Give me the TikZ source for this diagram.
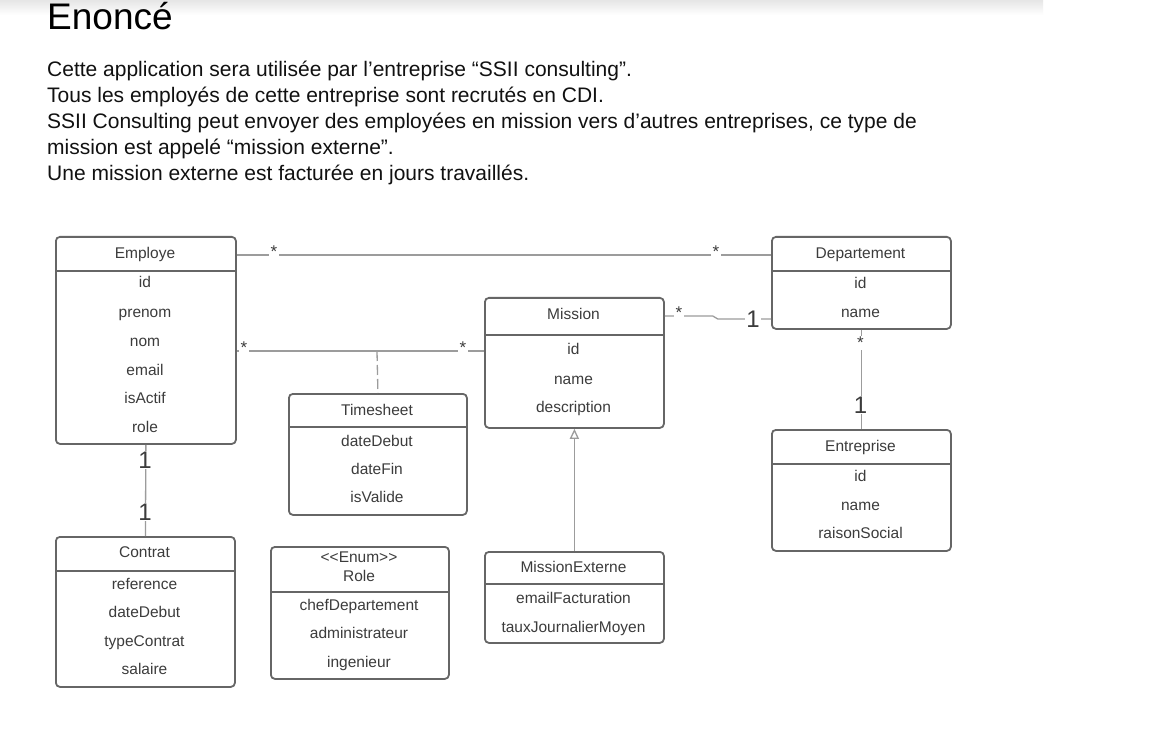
\documentclass[tikz,border=0pt]{standalone}
\usepackage{fontspec}
\setmainfont{Liberation Sans}
\usetikzlibrary{arrows.meta}
\definecolor{boxc}{HTML}{666666}
\definecolor{linec}{HTML}{9C9C9C}
\definecolor{txtc}{HTML}{3C3C3C}
\definecolor{parac}{HTML}{111111}
\tikzset{
  cls/.style={draw=boxc, line width=1.8pt, rounded corners=4pt, anchor=north west, inner sep=0pt, fill=white},
  sep/.style={draw=boxc, line width=1.8pt},
  txt/.style={font=\fontsize{15.5}{18}\selectfont, text=txtc, inner sep=0pt, anchor=base, yshift=-5.5pt},
  para/.style={font=\fontsize{21}{25}\selectfont, text=parac, anchor=base west, inner sep=0pt},
  conn/.style={draw=linec, line width=1.3pt},
  mult/.style={fill=white, inner sep=1.5pt, font=\fontsize{17}{17}\selectfont, text=txtc},
  one/.style={fill=white, inner sep=1pt, font=\fontsize{24}{24}\selectfont, text=txtc},
}
\begin{document}
\begin{tikzpicture}[x=1pt,y=-1pt]
\useasboundingbox (0,0) rectangle (1152,730);
\fill[white] (0,0) rectangle (1152,730);
\shade[top color=black!10, bottom color=white] (0,0) rectangle (1043,15);

% title and statement
\node[para, font=\fontsize{37}{42}\selectfont, text=black] (title) at (47,30) {Enoncé};
\node[para] (p1) at (47,77) {Cette application sera utilisée par l’entreprise “SSII consulting”.};
\node[para] (p2) at (47,103) {Tous les employés de cette entreprise sont recrutés en CDI.};
\node[para] (p3) at (47,129) {SSII Consulting peut envoyer des employées en mission vers d’autres entreprises, ce type de};
\node[para] (p4) at (47,155) {mission est appelé “mission externe”.};
\node[para] (p5) at (47,181) {Une mission externe est facturée en jours travaillés.};

% ---------- Employe
\node[cls, minimum width=180pt, minimum height=207pt] (emp) at (55,236) {};
\draw[sep] (55,271) -- (235,271);
\node[txt] (emp-t) at (145,253) {Employe};
\node[txt] (emp-1) at (145,282) {id};
\node[txt] (emp-2) at (145,312) {prenom};
\node[txt] (emp-3) at (145,341) {nom};
\node[txt] (emp-4) at (145,370) {email};
\node[txt] (emp-5) at (145,398) {isActif};
\node[txt] (emp-6) at (145,427) {role};

% ---------- Departement
\node[cls, minimum width=179pt, minimum height=92pt] (dep) at (771,236) {};
\draw[sep] (771,271) -- (950,271);
\node[txt] (dep-t) at (860.5,253) {Departement};
\node[txt] (dep-1) at (860.5,283) {id};
\node[txt] (dep-2) at (860.5,312) {name};

% ---------- Mission
\node[cls, minimum width=179pt, minimum height=130pt] (mis) at (484,297) {};
\draw[sep] (484,335) -- (663,335);
\node[txt] (mis-t) at (573.5,314) {Mission};
\node[txt] (mis-1) at (573.5,349) {id};
\node[txt] (mis-2) at (573.5,379) {name};
\node[txt] (mis-3) at (573.5,407) {description};

% ---------- Timesheet
\node[cls, minimum width=178pt, minimum height=121pt] (tim) at (288,393) {};
\draw[sep] (288,427) -- (466,427);
\node[txt] (tim-t) at (377,410) {Timesheet};
\node[txt] (tim-1) at (377,441) {dateDebut};
\node[txt] (tim-2) at (377,469) {dateFin};
\node[txt] (tim-3) at (377,497) {isValide};

% ---------- Entreprise
\node[cls, minimum width=179pt, minimum height=121pt] (ent) at (771,429) {};
\draw[sep] (771,464) -- (950,464);
\node[txt] (ent-t) at (860.5,446) {Entreprise};
\node[txt] (ent-1) at (860.5,476) {id};
\node[txt] (ent-2) at (860.5,505) {name};
\node[txt] (ent-3) at (860.5,533) {raisonSocial};

% ---------- Contrat
\node[cls, minimum width=179pt, minimum height=150pt] (con) at (55,536) {};
\draw[sep] (55,571) -- (234,571);
\node[txt] (con-t) at (144.5,552) {Contrat};
\node[txt] (con-1) at (144.5,584) {reference};
\node[txt] (con-2) at (144.5,612) {dateDebut};
\node[txt] (con-3) at (144.5,641) {typeContrat};
\node[txt] (con-4) at (144.5,669) {salaire};

% ---------- Role
\node[cls, minimum width=178pt, minimum height=132pt] (rol) at (270,546) {};
\draw[sep] (270,592) -- (448,592);
\node[txt] (rol-s) at (359,557) {<{}<Enum>{}>};
\node[txt] (rol-t) at (359,576) {Role};
\node[txt] (rol-1) at (359,605) {chefDepartement};
\node[txt] (rol-2) at (359,633) {administrateur};
\node[txt] (rol-3) at (359,662) {ingenieur};

% ---------- MissionExterne
\node[cls, minimum width=179pt, minimum height=91pt] (mex) at (484,551) {};
\draw[sep] (484,584) -- (663,584);
\node[txt] (mex-t) at (573.5,567) {MissionExterne};
\node[txt] (mex-1) at (573.5,598) {emailFacturation};
\node[txt] (mex-2) at (573.5,627) {tauxJournalierMoyen};

% ---------- connectors
% Employe -- Departement
\draw[conn] ([shift={(0,19)}]emp.north east) -- ([shift={(0,19)}]dep.north west);
\node[mult] (m1) at (274,252) {*};
\node[mult] (m2) at (716,252) {*};

% Employe -- Mission
\draw[conn] ([shift={(0,115)}]emp.north east) -- ([shift={(0,54)}]mis.north west);
\node[mult] (m3) at (244,348) {*};
\node[mult] (m4) at (463,348) {*};

% association class Timesheet
\coordinate (ac) at (377,351);
\draw[conn, dash pattern=on 10pt off 4pt] (ac) -- (tim.north);

% Mission -- Departement
\draw[conn] ([shift={(0,19)}]mis.north east) -- ++(48,0) -- ++(5,3) -- ([shift={(0,83)}]dep.north west);
\node[mult] (m5) at (679,313) {*};
\node[one] (o1) at (753,319) {1};

% Employe -- Contrat
\draw[conn] (emp.south) -- (con.north);
\node[one] (o2) at (145,460) {1};
\node[one] (o3) at (145,512) {1};

% Departement -- Entreprise
\draw[conn] (dep.south) -- (ent.north);
\node[mult] (m6) at (860.5,343) {*};
\node[one] (o4) at (860.5,405) {1};

% MissionExterne inherits Mission
\draw[conn, -{Triangle[open, length=10pt, width=9pt]}] (mex.north) -- (mis.south);
\end{tikzpicture}
\end{document}
